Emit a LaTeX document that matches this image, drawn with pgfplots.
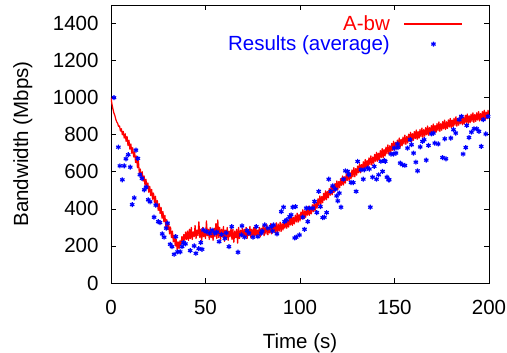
\documentclass[border=0pt]{standalone}
\usepackage{pgfplots}
\pgfplotsset{compat=1.18}
\usepackage{fontspec}
\setmainfont{Liberation Sans}
\pgfplotsset{
  lineleg/.style={legend image code/.code={\path (0pt,0pt); \draw[red, line width=1.6pt] (12pt,0pt) -- (70pt,0pt);}},
  markleg/.style={legend image code/.code={\draw[mark repeat=2,mark phase=2,##1] plot coordinates {(12pt,0pt) (41pt,0pt) (70pt,0pt)}; \path (0pt,0pt);}},
}
\begin{document}
\begin{tikzpicture}
\begin{axis}[
  scale only axis,
  width=378pt, height=278pt,
  xmin=0, xmax=200, ymin=0, ymax=1500,
  xtick={0,50,100,150,200},
  ytick={0,200,400,600,800,1000,1200,1400},
  major tick length=5pt,
  tick align=inside,
  axis line style={line width=0.8pt},
  tick style={line width=0.6pt, black},
  font=\fontsize{20.5}{24}\selectfont,
  /pgf/number format/assume math mode=true,
  /pgf/number format/1000 sep={},
  xticklabel style={yshift=-14pt},
  yticklabel style={xshift=-9pt},
  xlabel={Time (s)},
  ylabel={Bandwidth (Mbps)},
  xlabel style={at={(axis description cs:0.5,-0.216)}, anchor=center},
  ylabel style={at={(axis description cs:-0.233,0.5)}, anchor=center},
  legend style={draw=none, fill=none, at={(axis cs:186.5,1455)}, anchor=north east,
    legend cell align=right, row sep=0pt, inner sep=0pt},
  legend plot pos=right,
]
\addplot[red, line width=1.25pt, line join=round, lineleg]
coordinates {
(0,1000)(0.5,965)(1,940)(1.5,918)(2,905)(2.5,885)(3,870)(3.5,862)(4,845)(4.5,848)
(5,820)(5.5,832)(6,800)(6.5,818)(7,782)(7.5,805)(8,765)(8.5,790)(9,742)(9.5,770)
(10,722)(10.5,750)(11,700)(11.5,730)(12,680)(12.5,708)(13,650)(13.5,685)(14,622)(14.5,660)
(15,590)(15.5,615)(16,568)(16.5,600)(17,550)(17.5,578)(18,528)(18.5,560)(19,508)(19.5,540)
(20,490)(20.5,522)(21,472)(21.5,505)(22,452)(22.5,485)(23,432)(23.5,468)(24,415)(24.5,445)
(25,392)(25.5,428)(26,375)(26.5,408)(27,350)(27.5,385)(28,330)(28.5,365)(29,305)(29.5,342)
(30,288)(30.5,322)(31,265)(31.5,302)(32,245)(32.5,280)(33,222)(33.5,258)(34,200)(34.5,238)
(35,180)(35.5,222)(36,185)(36.5,228)(37,205)(37.5,250)(38,220)(38.5,262)(39,230)(39.5,275)
(40,235)(40.5,280)(41,230)(41.5,290)(42,240)(42.5,300)(43,235)(43.5,275)(44,250)(44.5,310)
(45,240)(45.5,285)(46,255)(46.5,330)(47,245)(47.5,290)(48,230)(48.5,300)(49,250)(49.5,280)
(50,240)(50.5,335)(51,255)(51.5,290)(52,235)(52.5,300)(53,245)(53.5,285)(54,230)(54.5,295)
(55,250)(55.5,320)(56,240)(56.5,340)(57,245)(57.5,300)(58,235)(58.5,290)(59,250)(59.5,305)
(60,225)(60.5,285)(61,240)(61.5,300)(62,230)(62.5,280)(63,250)(63.5,295)(64,235)(64.5,290)
(65,220)(65.5,280)(66,245)(66.5,290)(67,215)(67.5,300)(68,240)(68.5,285)(69,255)(69.5,295)
(70,245)(70.5,290)(71,250)(71.5,300)(72,240)(72.5,285)(73,255)(73.5,305)(74,245)(74.5,290)
(75,250)(75.5,300)(76,255)(76.5,310)(77,250)(77.5,285)(78,260)(78.5,300)(79,250)(79.5,295)
(80,265)(80.5,310)(81,255)(81.5,300)(82,265)(82.5,315)(83,260)(83.5,300)(84,270)(84.5,320)
(85,265)(85.5,305)(86,275)(86.5,315)(87,270)(87.5,325)
(88,270)(88.5,318)(89,280)(89.5,328)(90,278)(90.5,321)(91,286)(91.5,333)(92,296)(92.5,344)
(93,295)(93.5,337)(94,302)(94.5,350)(95,313)(95.5,360)(96,311)(96.5,354)(97,319)(97.5,366)
(98,329)(98.5,377)(99,328)(99.5,370)(100,335)(100.5,383)(101,346)(101.5,395)(102,346)(102.5,389)
(103,354)(103.5,402)(104,366)(104.5,414)(105,365)(105.5,408)(106,373)(106.5,422)(107,385)(107.5,436)
(108,390)(108.5,436)(109,403)(109.5,454)(110,420)(110.5,470)(111,422)(111.5,467)(112,433)(112.5,483)
(113,447)(113.5,497)(114,449)(114.5,494)(115,460)(115.5,510)(116,474)(116.5,524)(117,476)(117.5,521)
(118,487)(118.5,537)(119,501)(119.5,551)(120,503)(120.5,547)(121,514)(121.5,563)(122,527)(122.5,577)
(123,529)(123.5,573)(124,539)(124.5,589)(125,553)(125.5,601)(126,553)(126.5,596)(127,562)(127.5,610)
(128,573)(128.5,622)(129,573)(129.5,617)(130,582)(130.5,631)(131,595)(131.5,643)(132,595)(132.5,639)
(133,605)(133.5,654)(134,617)(134.5,666)(135,618)(135.5,661)(136,626)(136.5,675)(137,638)(137.5,686)
(138,637)(138.5,680)(139,646)(139.5,694)(140,657)(140.5,705)(141,657)(141.5,700)(142,665)(142.5,714)
(143,677)(143.5,725)(144,676)(144.5,720)(145,685)(145.5,733)(146,697)(146.5,745)(147,696)(147.5,740)
(148,705)(148.5,753)(149,716)(149.5,765)(150,716)(150.5,759)(151,723)(151.5,771)(152,734)(152.5,782)
(153,732)(153.5,775)(154,740)(154.5,787)(155,750)(155.5,798)(156,748)(156.5,791)(157,755)(157.5,803)
(158,765)(158.5,813)(159,763)(159.5,806)(160,770)(160.5,817)(161,779)(161.5,825)(162,775)(162.5,817)
(163,781)(163.5,828)(164,789)(164.5,836)(165,786)(165.5,828)(166,792)(166.5,838)(167,800)(167.5,847)
(168,797)(168.5,839)(169,802)(169.5,849)(170,811)(170.5,858)(171,808)(171.5,849)(172,813)(172.5,860)
(173,822)(173.5,869)(174,818)(174.5,860)(175,824)(175.5,871)(176,832)(176.5,879)(177,828)(177.5,870)
(178,834)(178.5,880)(179,842)(179.5,888)(180,838)(180.5,879)(181,843)(181.5,889)(182,851)(182.5,897)
(183,846)(183.5,888)(184,851)(184.5,898)(185,859)(185.5,905)(186,854)(186.5,895)(187,858)(187.5,905)
(188,866)(188.5,912)(189,861)(189.5,902)(190,865)(190.5,911)(191,872)(191.5,918)(192,867)(192.5,909)
(193,872)(193.5,918)(194,879)(194.5,925)(195,874)(195.5,915)(196,878)(196.5,925)(197,886)(197.5,932)
(198,881)(198.5,922)(199,886)(199.5,932)(200,893)
};
\addlegendentry{\textcolor{red}{A-bw}}
\addplot[blue, only marks, mark=asterisk, mark size=2.5pt, line width=1.2pt, markleg]
coordinates {
(1.6,1000)(3.9,733)(4.7,632)(7.0,632)(6.0,557)(7.9,670)(9.1,692)(10.2,625)(13.2,717)(14.2,672)
(12.3,459)(11.2,423)(15.3,584)(16.4,564)(17.6,503)(18.6,517)(19.7,449)(20.7,438)(23.7,420)(22.8,355)
(25.0,331)(25.9,326)(27.1,265)(28.1,247)(29.9,323)(29.2,296)(31.3,209)(32.3,196)(34.3,250)(33.4,155)
(35.2,168)(36.6,168)(38.4,218)(39.4,211)(37.6,196)(41.9,175)(44.0,200)(44.9,160)(46.4,185)(48.2,182)
(47.5,218)(48.9,286)(50.5,277)(52.2,269)(53.5,285)(54.9,269)(56.0,275)(57.2,223)(58.5,262)(60.2,241)
(61.0,270)(62.4,196)(63.9,304)(67.2,166)(69.0,259)(70.7,247)(69.3,308)(72.0,283)(73.0,269)(75.1,247)
(76.9,304)(77.7,250)(79.5,269)(80.0,280)(81.3,313)(83.0,296)(84.8,304)(85.5,280)(86.0,313)(87.8,265)
(90.1,385)(91.3,409)(91.8,331)(93.0,341)(94.5,358)(96.2,409)(97.6,412)(98.0,247)(99.7,259)(95.3,368)
(97.2,243)(102.4,290)(101.5,355)(104.1,331)(103.3,404)(105.0,404)(107.7,440)(106.8,404)(108.9,380)(109.9,494)
(110.8,412)(112.0,353)(112.9,355)(114.1,380)(115.2,560)(116.3,494)(117.3,524)(118.7,506)(119.4,470)(120.0,443)
(120.8,485)(121.7,409)(123.0,560)(124.0,605)(125.2,602)(125.8,584)(127.0,542)(128.2,542)(129.7,494)(130.5,656)
(132.3,611)(134.0,611)(133.5,560)(135.8,620)(136.7,615)(137.2,409)(139.3,629)(138.4,571)(140.5,560)(141.6,584)
(142.8,656)(144.6,661)(143.7,602)(146.0,571)(146.9,557)(145.1,656)(147.2,557)(148.1,696)(149.5,696)(150.8,701)
(151.6,750)(151.9,731)(149.9,728)(153.0,647)(154.3,638)(155.5,634)(156.9,728)(158.3,773)(159.0,746)(160.1,701)
(161.3,652)(162.2,605)(163.6,734)(164.8,764)(165.7,773)(166.8,663)(168.0,742)(169.6,804)(170.6,809)(171.3,755)
(173.1,750)(175.4,677)(177.2,670)(176.6,778)(179.8,782)(181.2,827)(182.4,809)(184.2,881)(185.4,899)(186.3,696)
(187.7,731)(188.2,850)(189.4,785)(190.7,814)(192.1,832)(193.5,832)(194.7,818)(195.9,737)(197.0,881)(198.3,804)
(199.5,899)
};
\addlegendentry{\textcolor{blue}{Results (average)}}
\end{axis}
\pgfresetboundingbox
\path[use as bounding box] (-111pt,-70pt) rectangle (396pt,283pt);
\end{tikzpicture}
\end{document}
